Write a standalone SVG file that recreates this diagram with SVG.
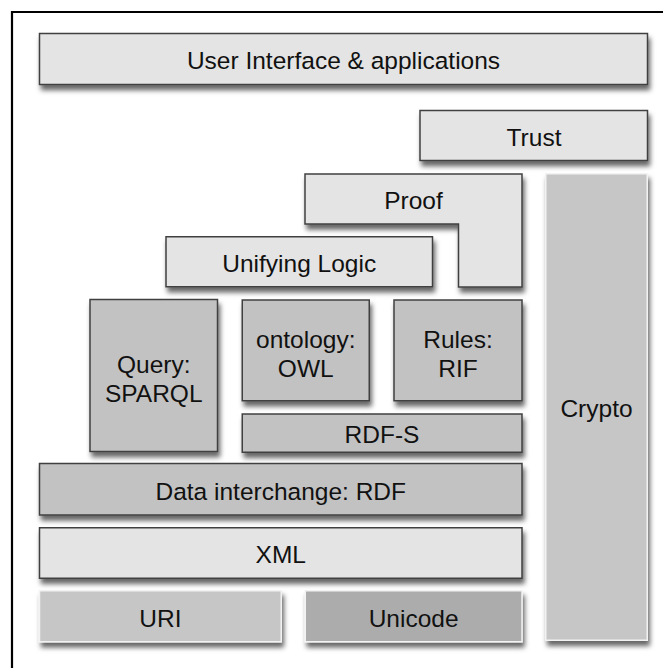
<svg xmlns="http://www.w3.org/2000/svg" width="663" height="668" viewBox="0 0 663 668">
  <defs>
    <filter id="shadow" x="-10%" y="-10%" width="130%" height="140%">
      <feDropShadow dx="2" dy="5" stdDeviation="2.8" flood-color="#000" flood-opacity="0.6"/>
    </filter>
    <style>
      .layer { filter: url(#shadow); stroke-width: 1.5; }
      .light { fill: #e4e4e4; stroke: #404040; }
      .mid { fill: #c2c2c2; stroke: #404040; }
      .soft { fill: #c6c6c6; stroke: #f2f2f2; }
      .deep { fill: #acacac; stroke: #f2f2f2; }
      text { font-family: "Liberation Sans", Arial, Helvetica, sans-serif; font-size: 24.5px; fill: #111; text-anchor: middle; }
    </style>
  </defs>

  <rect width="663" height="668" fill="#fff"/>
  <!-- frame (left and top edges) -->
  <path d="M12,668 V12 H663" fill="none" stroke="#000" stroke-width="2.2"/>

  <g id="ui">
    <rect class="layer light" x="39.5" y="33.5" width="608" height="51"/>
    <text x="343.5" y="69.3">User Interface &amp; applications</text>
  </g>

  <g id="trust">
    <rect class="layer light" x="420" y="110.5" width="227.5" height="50"/>
    <text x="534" y="145.5">Trust</text>
  </g>

  <g id="crypto">
    <rect class="layer soft" x="545.75" y="173.75" width="101.5" height="466.5"/>
    <text x="596.5" y="417.3">Crypto</text>
  </g>

  <g id="proof">
    <path class="layer light" d="M305,174 H522 V287 H458.5 V224 H305 Z"/>
    <text x="413.5" y="209.3">Proof</text>
  </g>

  <g id="unifying-logic">
    <rect class="layer light" x="166" y="236.75" width="266.5" height="50"/>
    <text x="299.25" y="272">Unifying Logic</text>
  </g>

  <g id="query">
    <rect class="layer mid" x="90" y="299.5" width="127.5" height="152"/>
    <text x="153.75" y="373">Query:</text>
    <text x="153.75" y="401.5">SPARQL</text>
  </g>

  <g id="ontology">
    <rect class="layer mid" x="242.25" y="300" width="127" height="100.75"/>
    <text x="305.75" y="348">ontology:</text>
    <text x="305.75" y="377">OWL</text>
  </g>

  <g id="rules">
    <rect class="layer mid" x="394" y="300" width="128" height="100.75"/>
    <text x="458" y="348">Rules:</text>
    <text x="458" y="377">RIF</text>
  </g>

  <g id="rdfs">
    <rect class="layer mid" x="242.25" y="414" width="279.75" height="38.25"/>
    <text x="382" y="443">RDF-S</text>
  </g>

  <g id="rdf">
    <rect class="layer mid" x="39.5" y="463.5" width="482.5" height="51.5"/>
    <text x="280.75" y="499.5">Data interchange: RDF</text>
  </g>

  <g id="xml">
    <rect class="layer light" x="39.5" y="527.75" width="482.5" height="50.5"/>
    <text x="280.75" y="563.3">XML</text>
  </g>

  <g id="uri">
    <rect class="layer soft" x="39.5" y="590.75" width="241.75" height="51"/>
    <text x="160.4" y="626.5">URI</text>
  </g>

  <g id="unicode">
    <rect class="layer deep" x="305.25" y="590.75" width="216.75" height="51"/>
    <text x="413.6" y="626.5">Unicode</text>
  </g>
</svg>
